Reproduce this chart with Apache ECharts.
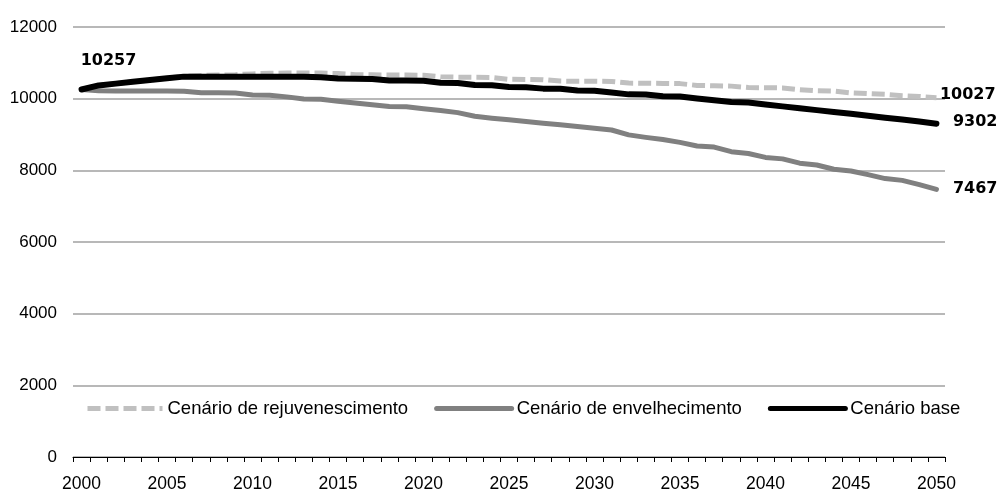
<!DOCTYPE html>
<html>
<head>
<meta charset="utf-8">
<script src="https://cdn.jsdelivr.net/npm/echarts@6/dist/echarts.min.js"></script>
<style>
html,body{margin:0;padding:0;background:#fff;}
#chart{width:1000px;height:493px;}
</style>
</head>
<body>
<div id="chart"></div>
<script>
var years = [];
for (var y = 2000; y <= 2050; y++) years.push(String(y));

var seriesNames = ['Cenário de rejuvenescimento', 'Cenário de envelhecimento', 'Cenário base'];

var rejuvenescimento = [
  10257, 10370, 10420, 10470, 10520, 10570, 10630, 10650, 10660, 10670,
  10690, 10710, 10715, 10715, 10715, 10700, 10670, 10665, 10660, 10660,
  10655, 10610, 10600, 10595, 10590, 10540, 10535, 10530, 10490, 10485,
  10485, 10480, 10435, 10430, 10425, 10420, 10370, 10360, 10350, 10310,
  10305, 10300, 10250, 10220, 10210, 10160, 10140, 10120, 10080, 10060,
  10027
];

var envelhecimento = [
  10257, 10220, 10215, 10215, 10215, 10215, 10210, 10165, 10165, 10160,
  10100, 10095, 10050, 9990, 9985, 9930, 9880, 9830, 9780, 9775,
  9720, 9670, 9610, 9510, 9455, 9410, 9360, 9315, 9270, 9225,
  9175, 9125, 8990, 8920, 8860, 8780, 8680, 8650, 8520, 8470,
  8360, 8320, 8200, 8150, 8030, 7980, 7880, 7770, 7720, 7600,
  7467
];

var base = [
  10257, 10370, 10420, 10470, 10520, 10570, 10615, 10615, 10615, 10615,
  10615, 10615, 10615, 10615, 10600, 10560, 10555, 10550, 10505, 10505,
  10500, 10445, 10440, 10380, 10375, 10325, 10320, 10280, 10275, 10225,
  10220, 10170, 10120, 10115, 10065, 10060, 10005, 9955, 9905, 9890,
  9840, 9785, 9730, 9680, 9630, 9580, 9525, 9470, 9420, 9360,
  9302
];

var yTicks = { min: 0, max: 12000, interval: 2000 };

var FONT = '"Liberation Sans", Arial, sans-serif';
var BOLD = {fontFamily: '"DejaVu Sans", sans-serif', fontWeight: 'bold', fontSize: 16, color: '#000'};

var baseData = base.map(function (v, i) {
  if (i === 0) {
    return {
      value: v, symbol: 'circle', symbolSize: 2,
      label: Object.assign({show: true, position: 'inside', offset: [27, -29],
        formatter: function (p) { return String(p.value); }, textBorderWidth: 0}, BOLD)
    };
  }
  return v;
});

function endLabel(off) {
  return Object.assign({show: true, distance: 0, offset: off,
    formatter: function (p) { return String(p.value); }}, BOLD);
}

var chart = echarts.init(document.getElementById('chart'));
chart.setOption({
  animation: false,
  backgroundColor: '#fff',
  textStyle: {fontFamily: FONT},
  grid: {left: 73, right: 55, top: 27, bottom: 32},
  legend: {
    left: 80, top: 394,
    itemWidth: 75, itemHeight: 14, itemGap: 26,
    itemStyle: {opacity: 0},
    lineStyle: {width: 5},
    textStyle: {fontFamily: FONT, fontSize: 18.5, color: '#000'},
    data: seriesNames
  },
  xAxis: {
    type: 'category',
    data: years,
    boundaryGap: true,
    axisLine: {lineStyle: {color: '#000', width: 1}},
    axisTick: {show: true, interval: 0, length: 5, lineStyle: {color: '#000'}},
    axisLabel: {interval: 4, margin: 18, fontSize: 17.5, color: '#000', fontFamily: FONT},
    splitLine: {show: false}
  },
  yAxis: {
    type: 'value',
    min: yTicks.min, max: yTicks.max, interval: yTicks.interval,
    axisLine: {show: false},
    axisTick: {show: false},
    axisLabel: {margin: 16, fontSize: 17, color: '#000', fontFamily: FONT,
      formatter: function (v) { return String(v); }},
    splitLine: {lineStyle: {color: '#a0a0a0', width: 1.5}}
  },
  series: [
    {
      name: seriesNames[0], type: 'line', data: rejuvenescimento,
      symbol: 'none', z: 2,
      lineStyle: {color: '#c0c0c0', width: 5, type: [13, 5]},
      itemStyle: {color: '#c0c0c0'},
      endLabel: endLabel([3.5, -3])
    },
    {
      name: seriesNames[1], type: 'line', data: envelhecimento,
      symbol: 'none', z: 3,
      lineStyle: {color: '#808080', width: 5, cap: 'round', join: 'round'},
      itemStyle: {color: '#808080'},
      endLabel: endLabel([16.5, -1])
    },
    {
      name: seriesNames[2], type: 'line', data: baseData,
      symbol: 'none', z: 4,
      lineStyle: {color: '#000', width: 6, cap: 'round', join: 'round'},
      itemStyle: {color: '#000'},
      endLabel: endLabel([16.5, -1.5])
    }
  ]
});
</script>
</body>
</html>
